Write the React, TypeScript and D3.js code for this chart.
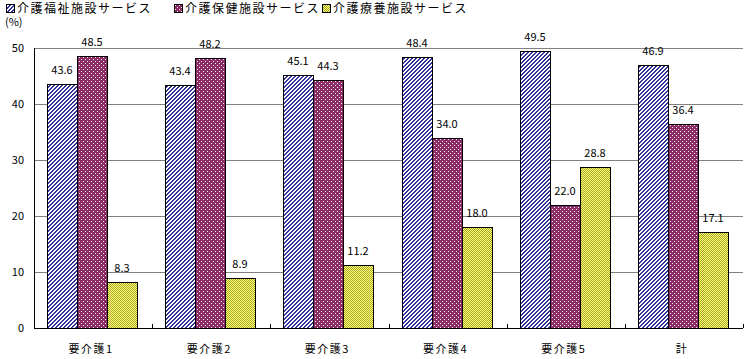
import React, { useEffect, useRef } from "react";
import * as d3 from "d3";

const categories = ["要介護1", "要介護2", "要介護3", "要介護4", "要介護5", "計"];
const seriesNames = ["介護福祉施設サービス", "介護保健施設サービス", "介護療養施設サービス"];
const welfare = [43.6, 43.4, 45.1, 48.4, 49.5, 46.9];
const health = [48.5, 48.2, 44.3, 34.0, 22.0, 36.4];
const medical = [8.3, 8.9, 11.2, 18.0, 28.8, 17.1];
const yTicks = [0, 10, 20, 30, 40, 50];

const FONT = "'Noto Sans CJK JP', 'Noto Sans', sans-serif";

export default function App() {
  const svgRef = useRef<SVGSVGElement | null>(null);

  useEffect(() => {
    const svg = d3.select(svgRef.current);
    svg.selectAll("*").remove();

    const width = 747;
    const height = 359;
    const margin = { top: 48, right: 4, bottom: 31, left: 34 };

    const defs = svg.append("defs");

    // diagonal navy stripes, built pixel by pixel
    const p1 = defs
      .append("pattern")
      .attr("id", "pat-welfare")
      .attr("patternUnits", "userSpaceOnUse")
      .attr("width", 4)
      .attr("height", 4);
    p1.append("rect").attr("width", 4).attr("height", 4).attr("fill", "#ffffff");
    for (let px = 0; px < 4; px++) {
      for (let py = 0; py < 4; py++) {
        if ((px + py) % 4 < 2) {
          p1.append("rect")
            .attr("x", px)
            .attr("y", py)
            .attr("width", 1)
            .attr("height", 1)
            .attr("fill", "#333399");
        }
      }
    }

    // purple with white dots
    const p2 = defs
      .append("pattern")
      .attr("id", "pat-health")
      .attr("patternUnits", "userSpaceOnUse")
      .attr("width", 4)
      .attr("height", 4);
    p2.append("rect").attr("width", 4).attr("height", 4).attr("fill", "#8e2a66");
    p2.append("rect").attr("x", 1).attr("y", 1).attr("width", 1).attr("height", 1).attr("fill", "#ffffff");
    p2.append("rect").attr("x", 3).attr("y", 3).attr("width", 1).attr("height", 1).attr("fill", "#ffffff");

    // yellow checker
    const p3 = defs
      .append("pattern")
      .attr("id", "pat-medical")
      .attr("patternUnits", "userSpaceOnUse")
      .attr("width", 2)
      .attr("height", 2);
    p3.append("rect").attr("width", 2).attr("height", 2).attr("fill", "#ffff80");
    p3.append("rect").attr("width", 1).attr("height", 1).attr("fill", "#a8a820");
    p3.append("rect").attr("x", 1).attr("y", 1).attr("width", 1).attr("height", 1).attr("fill", "#a8a820");

    const fills = ["url(#pat-welfare)", "url(#pat-health)", "url(#pat-medical)"];
    const series = [welfare, health, medical];

    const x = d3
      .scaleBand()
      .domain(categories)
      .range([margin.left, width - margin.right]);

    const x1 = d3
      .scaleBand()
      .domain(["0", "1", "2"])
      .range([13, 13 + 90]);

    const y = d3
      .scaleLinear()
      .domain([0, 50])
      .range([height - margin.bottom, margin.top]);

    // gridlines
    svg
      .append("g")
      .selectAll("line")
      .data(yTicks.filter((d) => d > 0))
      .enter()
      .append("line")
      .attr("x1", margin.left)
      .attr("x2", width - margin.right)
      .attr("y1", (d) => y(d) + 0.5)
      .attr("y2", (d) => y(d) + 0.5)
      .attr("stroke", "#808080")
      .attr("stroke-width", 1);

    // y labels
    svg
      .append("g")
      .selectAll("text")
      .data(yTicks)
      .enter()
      .append("text")
      .attr("x", 24)
      .attr("y", (d) => y(d) + 4)
      .attr("text-anchor", "end")
      .attr("font-family", FONT)
      .attr("font-size", 11)
      .text((d) => d);

    svg
      .append("text")
      .attr("x", 5)
      .attr("y", 26)
      .attr("font-family", FONT)
      .attr("font-size", 11)
      .text("(%)");

    // bars
    const groups = svg
      .append("g")
      .selectAll("g")
      .data(categories)
      .enter()
      .append("g")
      .attr("transform", (d) => `translate(${Math.round(x(d))},0)`);

    series.forEach((vals, si) => {
      groups
        .append("rect")
        .attr("x", x1(String(si)) + 0.5)
        .attr("y", (_, i) => Math.round(y(vals[i])) + 0.5)
        .attr("width", x1.bandwidth())
        .attr("height", (_, i) => y(0) - Math.round(y(vals[i])))
        .attr("fill", fills[si])
        .attr("stroke", "#000")
        .attr("stroke-width", 1);

      groups
        .append("text")
        .attr("x", x1(String(si)) + x1.bandwidth() / 2)
        .attr("y", (_, i) => y(vals[i]) - 10)
        .attr("text-anchor", "middle")
        .attr("font-family", FONT)
        .attr("font-size", 11)
        .text((_, i) => vals[i].toFixed(1));
    });

    // axes
    svg
      .append("line")
      .attr("x1", margin.left + 0.5)
      .attr("x2", margin.left + 0.5)
      .attr("y1", margin.top)
      .attr("y2", y(0))
      .attr("stroke", "#000");
    svg
      .append("line")
      .attr("x1", margin.left)
      .attr("x2", width - margin.right)
      .attr("y1", y(0) + 0.5)
      .attr("y2", y(0) + 0.5)
      .attr("stroke", "#000");

    svg
      .append("g")
      .selectAll("line")
      .data(categories.slice(1).concat(["end"]))
      .enter()
      .append("line")
      .attr("x1", (_, i) => Math.round(x(categories[0]) + x.bandwidth() * (i + 1)) + 0.5)
      .attr("x2", (_, i) => Math.round(x(categories[0]) + x.bandwidth() * (i + 1)) + 0.5)
      .attr("y1", y(0) - 4)
      .attr("y2", y(0))
      .attr("stroke", "#000");

    // category labels
    svg
      .append("g")
      .selectAll("text")
      .data(categories)
      .enter()
      .append("text")
      .attr("x", (d) => x(d) + x.bandwidth() / 2 - 2)
      .attr("y", 353)
      .attr("text-anchor", "middle")
      .attr("font-family", FONT)
      .attr("font-size", 11)
      .attr("letter-spacing", 1.5)
      .text((d) => d);

    // legend
    const legendX = [6, 174, 322];
    const legend = svg
      .append("g")
      .selectAll("g")
      .data(seriesNames)
      .enter()
      .append("g")
      .attr("transform", (_, i) => `translate(${legendX[i]},0)`);
    legend
      .append("rect")
      .attr("x", 0.5)
      .attr("y", 4.5)
      .attr("width", 8)
      .attr("height", 8)
      .attr("fill", (_, i) => fills[i])
      .attr("stroke", "#000");
    legend
      .append("text")
      .attr("x", 11)
      .attr("y", 13)
      .attr("font-family", FONT)
      .attr("font-size", 12)
      .attr("letter-spacing", 1.5)
      .text((d) => d);
  }, []);

  return (
    <svg
      ref={svgRef}
      width={747}
      height={359}
      style={{ position: "absolute", left: 0, top: 0, background: "#fff" }}
    />
  );
}
